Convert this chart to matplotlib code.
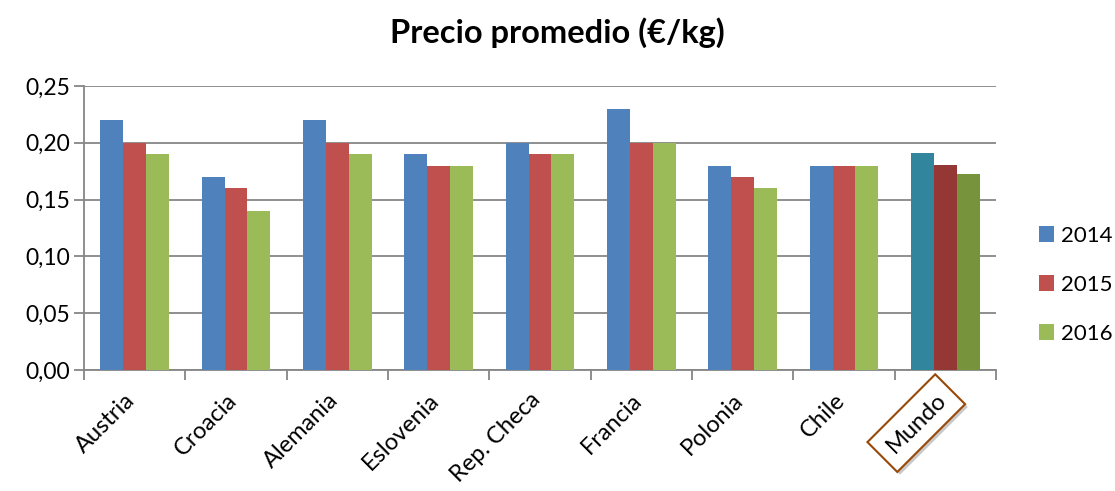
import numpy as np
import matplotlib.pyplot as plt
from matplotlib.patheffects import withSimplePatchShadow

plt.rcParams['font.family'] = ['Lato', 'DejaVu Sans']

paises = ["Austria", "Croacia", "Alemania", "Eslovenia", "Rep. Checa",
          "Francia", "Polonia", "Chile", "Mundo"]
anios = ["2014", "2015", "2016"]
p2014 = [0.22, 0.17, 0.22, 0.19, 0.20, 0.23, 0.18, 0.18, 0.191]
p2015 = [0.20, 0.16, 0.20, 0.18, 0.19, 0.20, 0.17, 0.18, 0.1805]
p2016 = [0.19, 0.14, 0.19, 0.18, 0.19, 0.20, 0.16, 0.18, 0.1725]
yticks = [0.00, 0.05, 0.10, 0.15, 0.20, 0.25]

colores = ["#4F81BD", "#C0504D", "#9BBB59"]
colores_mundo = ["#31859C", "#953735", "#77933C"]

fig = plt.figure(figsize=(11.15, 4.91), dpi=100)
ax = fig.add_axes([0.0753, 0.2464, 0.8180, 0.5784])

x = np.arange(len(paises))
w = 0.225
for i, (serie, anio) in enumerate(zip([p2014, p2015, p2016], anios)):
    cols = [colores[i]] * (len(paises) - 1) + [colores_mundo[i]]
    ax.bar(x + (i - 1) * w, serie, w, color=cols, label=anio, zorder=3)

ax.set_xlim(-0.5, len(paises) - 0.5)
ax.set_ylim(0, 0.25)
ax.set_yticks(yticks)
ax.set_yticklabels([f"{v:.2f}".replace(".", ",") for v in yticks], fontsize=16.5)
ax.yaxis.grid(True, color="#868686", linewidth=1.3, zorder=0)
ax.tick_params(axis="y", length=7, width=1.3, color="#868686", direction="out", pad=3)

# ticks between categories, labels centered under groups
ax.set_xticks(np.arange(len(paises) + 1) - 0.5)
ax.set_xticklabels([])
ax.tick_params(axis="x", which="major", length=7, width=1.3, color="#868686", direction="out")
for xi, nombre in zip(x, paises):
    t = ax.text(xi - 0.1, -0.017, nombre, rotation=45, ha="right", va="top",
                rotation_mode="anchor", fontsize=17, transform=ax.transData)
    if nombre == "Mundo":
        t.set_bbox(dict(boxstyle="square,pad=0.45", facecolor="white",
                        edgecolor="#984807", linewidth=1.5))
        t.get_bbox_patch().set_path_effects([withSimplePatchShadow(offset=(2, -2), alpha=0.3)])

for s in ["top", "right"]:
    ax.spines[s].set_visible(False)
for s in ["left", "bottom"]:
    ax.spines[s].set_color("#868686")
    ax.spines[s].set_linewidth(1.3)

fig.suptitle("Precio promedio (€/kg)", fontsize=23.5, fontweight="bold", y=0.965)

leg = ax.legend(loc="center left", bbox_to_anchor=(1.047, 0.30), frameon=False,
                fontsize=16, handlelength=0.7, handleheight=0.7, labelspacing=1.3,
                handletextpad=0.3, borderpad=0, borderaxespad=0)

fig.savefig("out.png", dpi=100)
